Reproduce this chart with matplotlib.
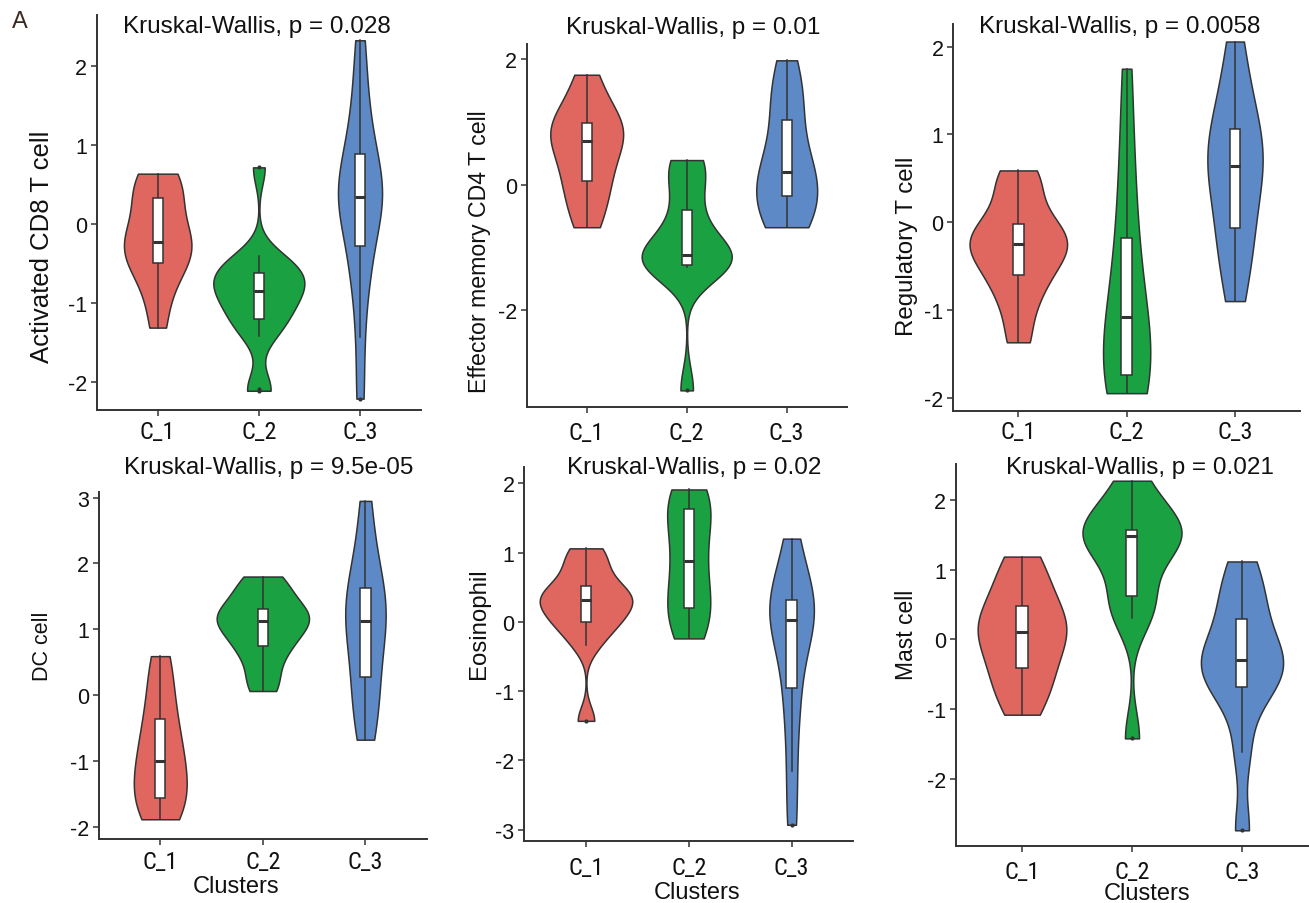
import numpy as np
import matplotlib
matplotlib.use("Agg")
import matplotlib.pyplot as plt
from matplotlib.patches import Rectangle
from matplotlib import font_manager as fm

plt.rcParams['font.family'] = ['Liberation Sans', 'DejaVu Sans']
plt.rcParams['axes.unicode_minus'] = False

# ---------------- data ----------------
clusters = ["C_1", "C_2", "C_3"]
colors = ["#E06660", "#1AA142", "#5D8AC6"]

# Activated CD8 T cell
cd8_c1 = [-1.31, -0.9, -0.6, -0.49, -0.35, -0.28, -0.22, -0.15, 0.05, 0.33, 0.45, 0.55, 0.64]
cd8_c2 = [-2.11, -2.09, -1.42, -1.30, -1.20, -1.10, -1.00, -0.92, -0.85, -0.80, -0.72, -0.66,
          -0.62, -0.55, -0.48, -0.40, 0.72]
cd8_c3 = [-2.21, -1.43, -0.8, -0.55, -0.27, 0.0, 0.15, 0.25, 0.35, 0.45, 0.55, 0.7, 0.89,
          1.1, 1.4, 1.8, 2.33]
cd8_ticks = [-2, -1, 0, 1, 2]

# Effector memory CD4 T cell
cd4_c1 = [-0.68, -0.4, -0.1, 0.06, 0.3, 0.5, 0.69, 0.8, 0.9, 0.98, 1.1, 1.4, 1.75]
cd4_c2 = [-3.28, -1.32, -1.30, -1.28, -1.2, -1.15, -1.12, -1.0, -0.7, -0.41, 0.0, 0.3, 0.39]
cd4_c3 = [-0.68, -0.62, -0.5, -0.19, -0.12, 0.0, 0.20, 0.35, 0.6, 1.03, 1.3, 1.6, 1.98]
cd4_ticks = [-2, 0, 2]

# Regulatory T cell
treg_c1 = [-1.37, -1.0, -0.75, -0.60, -0.45, -0.35, -0.25, -0.2, -0.1, -0.02, 0.2, 0.45, 0.59]
treg_c2 = [-1.95, -1.9, -1.8, -1.74, -1.6, -1.4, -1.08, -0.9, -0.6, -0.18, 0.3, 0.9, 1.75]
treg_c3 = [-0.90, -0.5, -0.2, -0.07, 0.3, 0.5, 0.64, 0.75, 0.9, 1.06, 1.3, 1.6, 2.06]
treg_ticks = [-2, -1, 0, 1, 2]

# DC cell
dc_c1 = [-1.89, -1.75, -1.65, -1.56, -1.35, -1.15, -1.00, -0.85, -0.6, -0.37, -0.1, 0.3, 0.59]
dc_c2 = [0.06, 0.3, 0.6, 0.74, 0.9, 1.0, 1.13, 1.18, 1.25, 1.30, 1.5, 1.65, 1.80]
dc_c3 = [-0.68, -0.35, 0.0, 0.27, 0.6, 0.95, 1.13, 1.25, 1.4, 1.63, 1.9, 2.3, 2.95]
dc_ticks = [-2, -1, 0, 1, 2, 3]

# Eosinophil
eos_c1 = [-1.43, -0.33, -0.1, 0.0, 0.1, 0.22, 0.31, 0.35, 0.42, 0.51, 0.7, 0.9, 1.06]
eos_c2 = [-0.24, -0.05, 0.1, 0.20, 0.4, 0.65, 0.88, 1.1, 1.35, 1.63, 1.7, 1.8, 1.91]
eos_c3 = [-2.93, -2.15, -1.4, -0.96, -0.5, -0.15, 0.02, 0.1, 0.2, 0.32, 0.45, 0.75, 1.20]
eos_ticks = [-3, -2, -1, 0, 1, 2]

# Mast cell
mast_c1 = [-1.08, -0.8, -0.6, -0.41, -0.2, 0.0, 0.11, 0.2, 0.3, 0.48, 0.7, 0.95, 1.19]
mast_c2 = [-1.42, 0.31, 0.5, 0.62, 1.1, 1.4, 1.48, 1.5, 1.53, 1.57, 1.7, 2.0, 2.28]
mast_c3 = [-2.74, -1.62, -0.9, -0.68, -0.5, -0.4, -0.30, -0.2, -0.05, 0.30, 0.5, 0.8, 1.12]
mast_ticks = [-2, -1, 0, 1, 2]

ylabels = ["Activated CD8 T cell", "Effector memory CD4 T cell", "Regulatory T cell",
           "DC cell", "Eosinophil", "Mast cell"]
pvalues = ["0.028", "0.01", "0.0058", "9.5e-05", "0.02", "0.021"]

# ---------------- condensed font for category labels ----------------
def find_condensed():
    prefs = ["LiberationSansNarrow-Regular", "RobotoCondensed-Regular",
             "OpenSans_Condensed-Regular", "OpenSansCondensed", "DejaVuSansCondensed.ttf"]
    files = [f.fname for f in fm.fontManager.ttflist]
    for key in prefs:
        for fn in files:
            if key.lower() in fn.lower():
                return fm.FontProperties(fname=fn)
    return fm.FontProperties(family=["Liberation Sans", "DejaVu Sans"])

cond_fp = find_condensed()

# ---------------- layout (pixels) ----------------
W, H = 1309, 904
fig = plt.figure(figsize=(W / 100, H / 100), dpi=100)

panels = [
    dict(groups=[cd8_c1, cd8_c2, cd8_c3], ticks=cd8_ticks, box=(97, 16, 420.7, 410.7),
         ylim=(-2.35, 2.65), title=(256.7, 26.7), ylab=(42, 247), ylab_size=18.5, xlab=None, xpad=18),
    dict(groups=[cd4_c1, cd4_c2, cd4_c3], ticks=cd4_ticks, box=(526.7, 45, 846.7, 408.3),
         ylim=(-3.55, 2.24), title=(693, 28), ylab=(479, 252), ylab_size=16.7, xlab=None, xpad=21),
    dict(groups=[treg_c1, treg_c2, treg_c3], ticks=treg_ticks, box=(953.3, 25, 1300, 411.7),
         ylim=(-2.15, 2.26), title=(1120, 26.7), ylab=(906.7, 246.7), ylab_size=17.3, xlab=None, xpad=17),
    dict(groups=[dc_c1, dc_c2, dc_c3], ticks=dc_ticks, box=(98.7, 492.7, 427, 840),
         ylim=(-2.19, 3.09), title=(269, 468), ylab=(42.7, 646.7), ylab_size=15.5,
         xlab=(235.8, 887.5), xpad=18),
    dict(groups=[eos_c1, eos_c2, eos_c3], ticks=eos_ticks, box=(524.3, 468.3, 853.3, 841.7),
         ylim=(-3.16, 2.23), title=(694, 468.3), ylab=(479.3, 624), ylab_size=17.3,
         xlab=(696.7, 893), xpad=23),
    dict(groups=[mast_c1, mast_c2, mast_c3], ticks=mast_ticks, box=(956, 465, 1308, 847.3),
         ylim=(-2.97, 2.52), title=(1140, 468), ylab=(906.7, 635), ylab_size=16.5,
         xlab=(1147.5, 894.5), xpad=21),
]

EDGE = "#333333"


def nrd0_kde(vals, grid):
    v = np.asarray(vals, float)
    n = len(v)
    sd = v.std(ddof=1)
    q1, q3 = np.percentile(v, [25, 75])
    lo = min(sd, (q3 - q1) / 1.34)
    if lo <= 0:
        lo = sd
    bw = 0.9 * lo * n ** -0.2
    z = (grid[:, None] - v[None, :]) / bw
    return np.exp(-0.5 * z ** 2).sum(axis=1) / (n * bw * np.sqrt(2 * np.pi))


for i, p in enumerate(panels):
    x0, y0, x1, y1 = p["box"]
    ax = fig.add_axes([x0 / W, 1 - y1 / H, (x1 - x0) / W, (y1 - y0) / H])
    ax.set_xlim(0.4, 3.6)
    ax.set_ylim(*p["ylim"])

    grids, dens = [], []
    for g in p["groups"]:
        grid = np.linspace(min(g), max(g), 512)
        grids.append(grid)
        dens.append(nrd0_kde(g, grid))
    dmax = max(d.max() for d in dens)

    for k, (g, grid, d) in enumerate(zip(p["groups"], grids, dens)):
        xc = k + 1
        half = 0.45 * d / dmax
        ax.fill_betweenx(grid, xc - half, xc + half, facecolor=colors[k],
                         edgecolor=EDGE, linewidth=1.1, zorder=2)
        v = np.asarray(g, float)
        q1, med, q3 = np.percentile(v, [25, 50, 75])
        iqr = q3 - q1
        inside = v[(v >= q1 - 1.5 * iqr) & (v <= q3 + 1.5 * iqr)]
        wlo, whi = inside.min(), inside.max()
        out = v[(v < q1 - 1.5 * iqr) | (v > q3 + 1.5 * iqr)]
        ax.plot([xc, xc], [q3, whi], color=EDGE, lw=1.1, zorder=3)
        ax.plot([xc, xc], [wlo, q1], color=EDGE, lw=1.1, zorder=3)
        ax.add_patch(Rectangle((xc - 0.05, q1), 0.1, q3 - q1, facecolor="white",
                               edgecolor=EDGE, linewidth=1.1, zorder=4))
        ax.plot([xc - 0.05, xc + 0.05], [med, med], color=EDGE, lw=2.2, zorder=5,
                solid_capstyle="butt")
        if len(out):
            ax.scatter(np.full(len(out), xc), out, s=4, color=EDGE, zorder=5)

    for s in ["top", "right"]:
        ax.spines[s].set_visible(False)
    for s in ["left", "bottom"]:
        ax.spines[s].set_color(EDGE)
        ax.spines[s].set_linewidth(1.4)
    ax.set_yticks(p["ticks"])
    ax.set_yticklabels([str(t) for t in p["ticks"]], fontsize=15.5, color="#111111")
    ax.set_xticks([1, 2, 3])
    ax.set_xticklabels(clusters, color="#111111")
    for lab in ax.get_xticklabels():
        lab.set_fontproperties(cond_fp)
        lab.set_fontsize(17.5)
    ax.tick_params(axis="both", length=4, width=1.1, color=EDGE)
    ax.tick_params(axis="y", pad=3)
    ax.tick_params(axis="x", pad=max(1, (p["xpad"] - 4 - 9) * 0.72))
    ax.set_facecolor("none")

    tx, ty = p["title"]
    fig.text(tx / W, 1 - ty / H, "Kruskal-Wallis, p = " + pvalues[i], fontsize=17.5,
             ha="center", va="center", color="#111111")
    lx, ly = p["ylab"]
    fig.text(lx / W, 1 - ly / H, ylabels[i], fontsize=p["ylab_size"], rotation=90,
             ha="center", va="center", color="#111111")
    if p["xlab"] is not None:
        cx, cy = p["xlab"]
        fig.text(cx / W, 1 - cy / H, "Clusters", fontsize=17, ha="center", va="center",
                 color="#111111")

fig.text(19.5 / W, 1 - 21.5 / H, "A", fontsize=17, ha="center", va="center", color="#3b2b22")

fig.savefig("out.png", dpi=100, facecolor="white")
